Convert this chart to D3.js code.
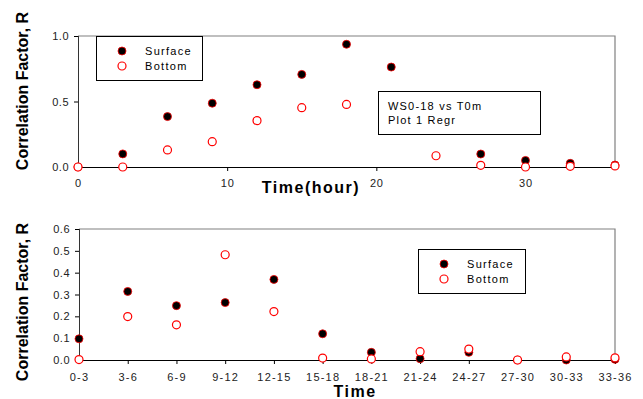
<!DOCTYPE html>
<html>
<head>
<meta charset="utf-8">
<script src="https://cdn.jsdelivr.net/npm/d3@7"></script>
<style>
  body { margin: 0; background: #fff; }
  svg { display: block; font-family: "Liberation Sans", Arial, sans-serif; }
</style>
</head>
<body>
<div id="chart"></div>
<script>
// top panel: hourly correlation
const hours = [0, 3, 6, 9, 12, 15, 18, 21, 24, 27, 30, 33, 36];
const surfaceTop = [0, 0.1, 0.385, 0.487, 0.628, 0.707, 0.937, 0.763, null, 0.099, 0.05, 0.028, 0.015];
const bottomTop = [0, 0.0, 0.13, 0.193, 0.354, 0.453, 0.478, null, 0.086, 0.013, 0.0, 0.005, 0.008];
const topTicksX = [0, 10, 20, 30];
const topTicksY = [0, 0.5, 1.0];

// bottom panel: 3-hour bins
const bins = ['0-3', '3-6', '6-9', '9-12', '12-15', '15-18', '18-21', '21-24', '24-27', '27-30', '30-33', '33-36'];
const surfaceBin = [0.097, 0.314, 0.249, 0.263, 0.369, 0.12, 0.035, 0.006, 0.035, 0.0, 0.0, 0.003];
const bottomBin = [0.002, 0.199, 0.161, 0.482, 0.222, 0.009, 0.005, 0.038, 0.05, 0.0, 0.014, 0.01];
const binTicksY = [0, 0.1, 0.2, 0.3, 0.4, 0.5, 0.6];

const seriesNames = ['Surface', 'Bottom'];

const width = 643, height = 399;
const svg = d3.select('#chart').append('svg')
  .attr('width', width)
  .attr('height', height);

const left = 78, right = 615;
const R = 4;

function frame(g, x0, x1, y0, y1) {
  // grey top and right border
  g.append('path')
    .attr('d', `M${x0},${y0}H${x1}V${y1}`)
    .attr('fill', 'none')
    .attr('stroke', '#808080')
    .attr('stroke-width', 1.2);
}

function dots(g, pts, filled) {
  g.selectAll(null)
    .data(pts.filter(d => d.v !== null))
    .enter()
    .append('circle')
    .attr('cx', d => d.x)
    .attr('cy', d => d.y)
    .attr('r', R)
    .attr('fill', filled ? '#000' : '#fff')
    .attr('stroke', '#ff0000')
    .attr('stroke-width', filled ? 0.8 : 1.2);
}

function legend(g, x, y, w, h) {
  g.append('rect')
    .attr('x', x + 0.5).attr('y', y + 0.5)
    .attr('width', w).attr('height', h)
    .attr('fill', '#fff')
    .attr('stroke', '#000')
    .attr('stroke-width', 1);
  seriesNames.forEach((name, i) => {
    const cy = y + 15 + i * 15;
    g.append('circle')
      .attr('cx', x + 26).attr('cy', cy).attr('r', R)
      .attr('fill', i === 0 ? '#000' : '#fff')
      .attr('stroke', '#ff0000')
      .attr('stroke-width', i === 0 ? 0.8 : 1.2);
    g.append('text')
      .attr('x', x + 49).attr('y', cy + 4)
      .attr('font-size', 11)
      .attr('letter-spacing', 1.3)
      .text(name);
  });
}

function yLabel(cy) {
  svg.append('text')
    .attr('transform', `translate(28,${cy}) rotate(-90)`)
    .attr('text-anchor', 'middle')
    .attr('font-size', 16)
    .attr('font-weight', 'bold')
    .text('Correlation Factor, R');
}

// ---------- top panel ----------
const gTop = svg.append('g');
const xTop = d3.scaleLinear().domain([0, 36]).range([left, right]);
const yTop = d3.scaleLinear().domain([0, 1]).range([167, 36]);

frame(gTop, left, right, 36, 167);

gTop.append('g')
  .attr('transform', 'translate(0,167)')
  .call(d3.axisBottom(xTop).tickValues(topTicksX).tickSize(4).tickPadding(8).tickFormat(d3.format('d')))
  .call(g => g.select('.domain').attr('d', `M${left},0.5H${right}`).attr('stroke', '#000'))
  .call(g => g.selectAll('text').attr('font-size', 11).attr('letter-spacing', 0.8).attr('font-family', 'Liberation Sans, Arial').attr('fill', '#222'));

gTop.append('g')
  .attr('transform', `translate(${left},0)`)
  .call(d3.axisLeft(yTop).tickValues(topTicksY).tickSize(4).tickPadding(5).tickFormat(d3.format('.1f')))
  .call(g => g.select('.domain').attr('d', 'M0.5,36V167').attr('stroke', '#333'))
  .call(g => g.selectAll('text').attr('font-size', 11).attr('letter-spacing', 0.5).attr('font-family', 'Liberation Sans, Arial').attr('fill', '#222'));

dots(gTop, hours.map((h, i) => ({ x: xTop(h), y: yTop(surfaceTop[i] ?? 0), v: surfaceTop[i] })), true);
dots(gTop, hours.map((h, i) => ({ x: xTop(h), y: yTop(bottomTop[i] ?? 0), v: bottomTop[i] })), false);

legend(gTop, 96, 36, 106, 44);

// annotation box
gTop.append('rect')
  .attr('x', 378.5).attr('y', 91.5)
  .attr('width', 162).attr('height', 43)
  .attr('fill', '#fff')
  .attr('stroke', '#000');
gTop.append('text').attr('x', 388).attr('y', 110)
  .attr('font-size', 11).attr('letter-spacing', 1.2).text('WS0-18 vs T0m');
gTop.append('text').attr('x', 388).attr('y', 124)
  .attr('font-size', 11).attr('letter-spacing', 1.2).text('Plot 1 Regr');

gTop.append('text')
  .attr('x', 311).attr('y', 193)
  .attr('text-anchor', 'middle')
  .attr('font-size', 16)
  .attr('font-weight', 'bold')
  .attr('letter-spacing', 1.5)
  .text('Time(hour)');

yLabel(91);

// ---------- bottom panel ----------
const gBot = svg.append('g');
const xBot = d3.scalePoint().domain(bins).range([left + 1, right]);
const yBot = d3.scaleLinear().domain([0, 0.6]).range([360, 229]);

frame(gBot, left + 1, right, 229, 360);

gBot.append('g')
  .attr('transform', 'translate(0,360)')
  .call(d3.axisBottom(xBot).tickSize(4).tickPadding(9))
  .call(g => g.select('.domain').attr('d', `M${left + 1},0.5H${right}`).attr('stroke', '#000'))
  .call(g => g.selectAll('text').attr('font-size', 11).attr('letter-spacing', 1.2).attr('font-family', 'Liberation Sans, Arial').attr('fill', '#222'));

gBot.append('g')
  .attr('transform', `translate(${left + 1},0)`)
  .call(d3.axisLeft(yBot).tickValues(binTicksY).tickSize(4).tickPadding(5).tickFormat(d3.format('.1f')))
  .call(g => g.select('.domain').attr('d', 'M0.5,229V360').attr('stroke', '#333'))
  .call(g => g.selectAll('text').attr('font-size', 11).attr('letter-spacing', 0.5).attr('font-family', 'Liberation Sans, Arial').attr('fill', '#222'));

dots(gBot, bins.map((b, i) => ({ x: xBot(b), y: yBot(surfaceBin[i]), v: surfaceBin[i] })), true);
dots(gBot, bins.map((b, i) => ({ x: xBot(b), y: yBot(bottomBin[i]), v: bottomBin[i] })), false);

legend(gBot, 418, 249, 107, 44);

gBot.append('text')
  .attr('x', 355).attr('y', 397)
  .attr('text-anchor', 'middle')
  .attr('font-size', 16)
  .attr('font-weight', 'bold')
  .attr('letter-spacing', 1.5)
  .text('Time');

yLabel(302);
</script>
</body>
</html>
